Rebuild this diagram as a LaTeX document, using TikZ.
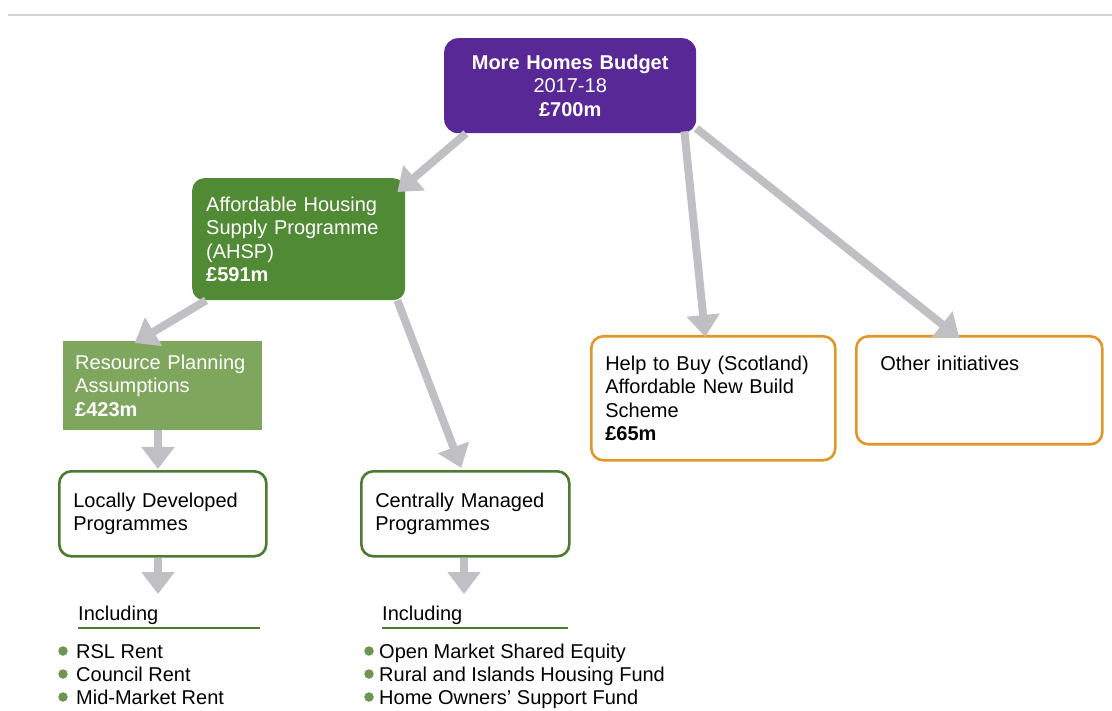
\documentclass[tikz,border=0pt]{standalone}
\usepackage{fontspec}
\setmainfont{Liberation Sans}
\usetikzlibrary{arrows.meta,calc}
\definecolor{budgetpurple}{RGB}{88,40,150}
\definecolor{ahspgreen}{RGB}{80,138,52}
\definecolor{rpagreen}{RGB}{126,166,92}
\definecolor{edgegreen}{RGB}{78,122,48}
\definecolor{dotgreen}{RGB}{110,150,80}
\definecolor{edgeorange}{RGB}{226,150,40}
\definecolor{flowgrey}{RGB}{192,192,196}
\definecolor{rulegrey}{RGB}{210,210,210}
\begin{document}
\begin{tikzpicture}[x=1pt,y=-1pt,
  every node/.style={font=\fontsize{20}{23.5}\selectfont},
  box/.style={draw, line width=2.6pt, rounded corners=12pt, fill=white,
    align=left, inner xsep=14pt, inner ysep=0pt, anchor=north west},
  greenbox/.style={box, draw=edgegreen},
  orangebox/.style={box, draw=edgeorange},
  flow/.style={draw=flowgrey, line width=8pt,
    -{Triangle[width=32pt,length=22pt]}, color=flowgrey},
  heading/.style={anchor=base west, inner sep=0pt},
  bullet/.style={anchor=base west, inner sep=0pt},
  dot/.style={circle, fill=dotgreen, inner sep=0pt, minimum size=9.5pt}
]
\useasboundingbox (0,0) rectangle (1112,711);

% header rule
\draw[rulegrey, line width=2pt] (8,15) -- (1112,15);

% boxes
\node (top) [anchor=north west, fill=budgetpurple, rounded corners=14pt,
  text=white, align=center, minimum width=252pt, minimum height=95pt,
  text width=230pt, inner sep=0pt] at (444,38)
  {\textbf{More Homes Budget}\\2017-18\\\textbf{\pounds700m}};

\node (ahsp) [anchor=north west, fill=ahspgreen, rounded corners=12pt,
  text=white, align=left, minimum width=213pt, minimum height=122pt,
  text width=185pt, inner xsep=14pt, inner ysep=0pt] at (192,178)
  {Affordable Housing\\Supply Programme\\(AHSP)\\\textbf{\pounds591m}};

\node (rpa) [anchor=north west, fill=rpagreen, text=white, align=left,
  minimum width=195pt, minimum height=89pt, text width=175pt,
  inner xsep=12pt, inner ysep=0pt] at (63,341)
  {Resource Planning\\Assumptions\\\textbf{\pounds423m}};

\node (ldp) [greenbox, minimum width=207pt, minimum height=85pt,
  text width=179pt] at (58,470) {Locally Developed\\Programmes};

\node (cmp) [greenbox, minimum width=208pt, minimum height=85pt,
  text width=180pt] at (360,470) {Centrally Managed\\Programmes};

\node (htb) [orangebox, minimum width=244pt, minimum height=124pt,
  text width=216pt] at (590,335)
  {Help to Buy (Scotland)\\Affordable New Build\\Scheme\\\textbf{\pounds65m}};

\node (oth) [orangebox, minimum width=246pt, text width=198pt,
  inner xsep=24pt, text height=27pt, text depth=67pt, inner ysep=7pt]
  at (855,335) {Other initiatives};

% "Including" lists
\node (inca) [heading] at (78,620) {Including};
\draw[edgegreen, line width=2.5pt] (78,628) -- (260,628);
\node (incb) [heading] at (382,620) {Including};
\draw[edgegreen, line width=2.5pt] (382,628) -- (568,628);

\node[dot] (da1) at (63,651) {};
\node[dot] (da2) at (63,674) {};
\node[dot] (da3) at (63,697) {};
\node[bullet] (la1) at (76,658) {RSL Rent};
\node[bullet] (la2) at (76,681) {Council Rent};
\node[bullet] (la3) at (76,704) {Mid-Market Rent};

\node[dot] (db1) at (369,651) {};
\node[dot] (db2) at (369,674) {};
\node[dot] (db3) at (369,697) {};
\node[bullet] (lb1) at (379,658) {Open Market Shared Equity};
\node[bullet] (lb2) at (379,681) {Rural and Islands Housing Fund};
\node[bullet] (lb3) at (379,704) {Home Owners' Support Fund};

% flows
\draw[flow] ($(top.south west)+(22,0)$) -- ($(ahsp.north east)+(-8,14)$);
\draw[flow] ($(top.south east)+(-12,-2)$) -- ($(htb.north)+(-8,2)$);
\draw[flow] ($(top.south east)+(0,-5)$) -- ($(oth.north)+(-20,3)$);
\draw[flow] ($(ahsp.south west)+(14,0)$) -- ($(rpa.north)+(-28,2)$);
\draw[flow] ($(ahsp.south east)+(-8,0)$) -- ($(cmp.north)+(-4,-2)$);
\draw[flow] (rpa.south -| 158,0) -- ($(ldp.north -| 158,0)+(0,-1)$);
\draw[flow] (ldp.south -| 158,0) -- (158,594);
\draw[flow] (cmp.south -| 464,0) -- (464,594);
\end{tikzpicture}
\end{document}
